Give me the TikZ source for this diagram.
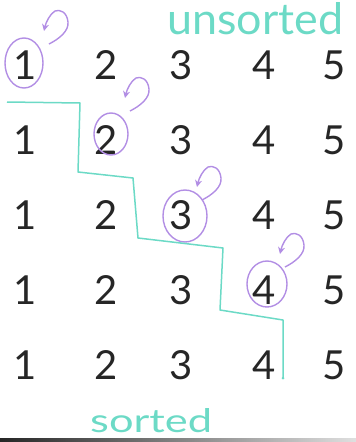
\documentclass[tikz,border=0pt]{standalone}
\usepackage{fontspec}
\setmainfont{Lato}
\usetikzlibrary{shapes.geometric,arrows.meta,calc}
\definecolor{teal1}{RGB}{108,218,198}
\definecolor{lilac}{RGB}{178,142,228}
\definecolor{ink}{RGB}{38,38,38}
\begin{document}
\begin{tikzpicture}[x=1pt,y=-1pt,
  digit/.style={text=ink,font=\fontsize{40}{40}\selectfont,inner sep=0pt},
  ring/.style={draw=lilac,line width=1.4pt,ellipse,inner sep=0pt},
  curl/.style={draw=lilac,line width=1.4pt,-{Stealth[length=7pt,width=7pt]}},
  stair/.style={draw=teal1,line width=1.5pt,line join=round},
  word/.style={text=teal1,inner sep=0pt}]
\useasboundingbox (0,0) rectangle (356,442);
% digits
\foreach \r/\y in {1/65,2/140,3/215,4/290,5/365}{
  \node[digit] (n\r1) at (25,\y) {1};
  \node[digit] (n\r2) at (106,\y) {2};
  \node[digit] (n\r3) at (181,\y) {3};
  \node[digit] (n\r4) at (264,\y) {4};
  \node[digit] (n\r5) at (334,\y) {5};
}
% rings
\node[ring,minimum width=38pt,minimum height=50pt] (c1) at (24,63) {};
\node[ring,minimum width=34pt,minimum height=42pt] (c2) at (111,134) {};
\node[ring,minimum width=44pt,minimum height=52pt] (c3) at (185,216) {};
\node[ring,minimum width=40pt,minimum height=46pt] (c4) at (267,284) {};
% curls
\foreach \c/\sx/\sy in {c1/25/-19, c2/19/-23, c3/17/-16, c4/18/-17}{
  \coordinate (s\c) at ($(\c)+(\sx,\sy)$);
  \draw[curl] (s\c) .. controls ($(s\c)+(10,-5)$) and ($(s\c)+(20,-13)$) .. ($(s\c)+(19,-22)$)
    .. controls ($(s\c)+(18,-32)$) and ($(s\c)+(11,-35)$) .. ($(s\c)+(6,-33)$)
    .. controls ($(s\c)+(1,-30)$) and ($(s\c)+(-3,-22)$) .. ($(s\c)+(-5,-13)$);
}
% staircase
\coordinate (p0) at (7,102);
\coordinate (p1) at (80,103);
\coordinate (p2) at (78,172);
\coordinate (p3) at (133,178);
\coordinate (p4) at (138,238);
\coordinate (p5) at (223,248);
\coordinate (p6) at (220,310);
\coordinate (p7) at (283,320);
\coordinate (p8) at (283,378);
\draw[stair] (p0) -- (p1) -- (p2) -- (p3) -- (p4) -- (p5) -- (p6) -- (p7) -- (p8);
\fill[teal1] (p8) circle (1.5pt);
% labels
\node[word,anchor=south west] (unsorted) at (167,35) {\resizebox{176pt}{32pt}{unsorted}};
\node[word,anchor=south west] (sorted) at (90,433) {\resizebox{122pt}{24pt}{sorted}};
% scan edge
\shade[left color=black!85,right color=gray!25] (0,438.5) rectangle (356,442);
\end{tikzpicture}
\end{document}
